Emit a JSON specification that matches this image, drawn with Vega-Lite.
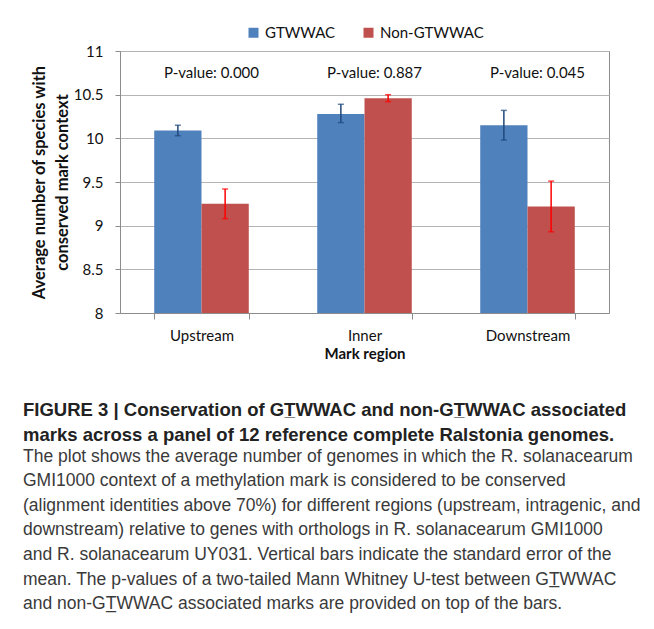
{
  "$schema": "https://vega.github.io/schema/vega-lite/v6.json",
  "width": 489,
  "height": 262,
  "autosize": "none",
  "padding": {"left": 120, "top": 51, "right": 45, "bottom": 316},
  "config": {
    "font": "Lato",
    "view": {"stroke": "#8c8c8c", "strokeWidth": 1},
    "legend": {"layout": {"top": {"anchor": "middle"}}}
  },
  "datasets": {
    "bars": [
      {"region": "Upstream", "group": "GTWWAC", "mean": 10.09, "lo": 10.03, "hi": 10.15},
      {"region": "Upstream", "group": "Non-GTWWAC", "mean": 9.25, "lo": 9.08, "hi": 9.42},
      {"region": "Inner", "group": "GTWWAC", "mean": 10.28, "lo": 10.18, "hi": 10.39},
      {"region": "Inner", "group": "Non-GTWWAC", "mean": 10.46, "lo": 10.42, "hi": 10.5},
      {"region": "Downstream", "group": "GTWWAC", "mean": 10.15, "lo": 9.98, "hi": 10.32},
      {"region": "Downstream", "group": "Non-GTWWAC", "mean": 9.22, "lo": 8.93, "hi": 9.51}
    ],
    "pvals": [
      {"region": "Upstream", "label": "P-value: 0.000"},
      {"region": "Inner", "label": "P-value: 0.887"},
      {"region": "Downstream", "label": "P-value: 0.045"}
    ]
  },
  "title": {
    "text": [
      "FIGURE 3 | Conservation of GT̲WWAC and non-GT̲WWAC associated",
      "marks across a panel of 12 reference complete Ralstonia genomes."
    ],
    "subtitle": [
      "The plot shows the average number of genomes in which the R. solanacearum",
      "GMI1000 context of a methylation mark is considered to be conserved",
      "(alignment identities above 70%) for different regions (upstream, intragenic, and",
      "downstream) relative to genes with orthologs in R. solanacearum GMI1000",
      "and R. solanacearum UY031. Vertical bars indicate the standard error of the",
      "mean. The p-values of a two-tailed Mann Whitney U-test between GT̲WWAC",
      "and non-GT̲WWAC associated marks are provided on top of the bars."
    ],
    "orient": "bottom",
    "anchor": "start",
    "frame": "group",
    "dx": -97,
    "offset": 40,
    "font": "Liberation Sans",
    "fontSize": 18.5,
    "fontWeight": "bold",
    "lineHeight": 25,
    "color": "#222222",
    "subtitleFont": "Liberation Sans",
    "subtitleFontSize": 17.5,
    "subtitleFontWeight": "normal",
    "subtitleLineHeight": 24.6,
    "subtitleColor": "#3a3a3a",
    "subtitlePadding": 3
  },
  "layer": [
    {
      "data": {"name": "bars"},
      "mark": {"type": "bar", "clip": true},
      "encoding": {
        "x": {
          "field": "region", "type": "nominal",
          "sort": ["Upstream", "Inner", "Downstream"],
          "scale": {"paddingInner": 0.42, "paddingOuter": 0.21},
          "axis": {
            "title": "Mark region", "labelAngle": 0, "tickBand": "extent",
            "tickSize": 6, "tickColor": "#8c8c8c", "domainColor": "#8c8c8c",
            "labelFontSize": 15, "labelColor": "#111111", "labelPadding": 9,
            "titleFontSize": 15, "titleFontWeight": "bold", "titleColor": "#111111", "titlePadding": 3
          }
        },
        "xOffset": {"field": "group", "type": "nominal", "sort": ["GTWWAC", "Non-GTWWAC"]},
        "y": {
          "field": "mean", "type": "quantitative",
          "scale": {"domain": [8, 11], "nice": false, "zero": false},
          "axis": {
            "values": [8, 8.5, 9, 9.5, 10, 10.5, 11], "format": "~g",
            "title": ["Average number of species with", "conserved mark context"],
            "grid": true, "gridColor": "#b4b4b4", "domainColor": "#8c8c8c",
            "tickColor": "#8c8c8c", "tickSize": 5,
            "labelFontSize": 15, "labelColor": "#111111", "labelPadding": 12,
            "titleFontSize": 16.5, "titleFontWeight": "bold", "titleColor": "#111111",
            "titleLineHeight": 23, "titlePadding": 3
          }
        },
        "y2": {"datum": 8},
        "color": {
          "field": "group", "type": "nominal",
          "scale": {"domain": ["GTWWAC", "Non-GTWWAC"], "range": ["#4f81bd", "#c0504d"]},
          "legend": {
            "title": null, "orient": "top", "direction": "horizontal",
            "symbolType": "square", "symbolSize": 100, "symbolStrokeWidth": 0,
            "labelFontSize": 15, "labelColor": "#111111", "columnPadding": 25, "offset": 10
          }
        }
      }
    },
    {
      "data": {"name": "bars"},
      "mark": {"type": "rule", "strokeWidth": 1.5},
      "encoding": {
        "x": {"field": "region", "type": "nominal", "sort": ["Upstream", "Inner", "Downstream"]},
        "xOffset": {"field": "group", "type": "nominal", "sort": ["GTWWAC", "Non-GTWWAC"]},
        "y": {"field": "lo", "type": "quantitative"},
        "y2": {"field": "hi"},
        "color": {"field": "group", "type": "nominal", "scale": {"domain": ["GTWWAC", "Non-GTWWAC"], "range": ["#1f497d", "#ff0000"]}, "legend": null}
      }
    },
    {
      "data": {"name": "bars"},
      "mark": {"type": "tick", "size": 6, "thickness": 1.5},
      "encoding": {
        "x": {"field": "region", "type": "nominal", "sort": ["Upstream", "Inner", "Downstream"]},
        "xOffset": {"field": "group", "type": "nominal", "sort": ["GTWWAC", "Non-GTWWAC"]},
        "y": {"field": "lo", "type": "quantitative"},
        "color": {"field": "group", "type": "nominal", "scale": {"domain": ["GTWWAC", "Non-GTWWAC"], "range": ["#1f497d", "#ff0000"]}, "legend": null}
      }
    },
    {
      "data": {"name": "bars"},
      "mark": {"type": "tick", "size": 6, "thickness": 1.5},
      "encoding": {
        "x": {"field": "region", "type": "nominal", "sort": ["Upstream", "Inner", "Downstream"]},
        "xOffset": {"field": "group", "type": "nominal", "sort": ["GTWWAC", "Non-GTWWAC"]},
        "y": {"field": "hi", "type": "quantitative"},
        "color": {"field": "group", "type": "nominal", "scale": {"domain": ["GTWWAC", "Non-GTWWAC"], "range": ["#1f497d", "#ff0000"]}, "legend": null}
      }
    },
    {
      "data": {"name": "pvals"},
      "mark": {"type": "text", "fontSize": 15, "color": "#111111", "dx": 10},
      "encoding": {
        "x": {"field": "region", "type": "nominal", "sort": ["Upstream", "Inner", "Downstream"]},
        "y": {"datum": 10.75, "type": "quantitative"},
        "text": {"field": "label", "type": "nominal"}
      }
    }
  ],
  "resolve": {"scale": {"color": "independent"}}
}
